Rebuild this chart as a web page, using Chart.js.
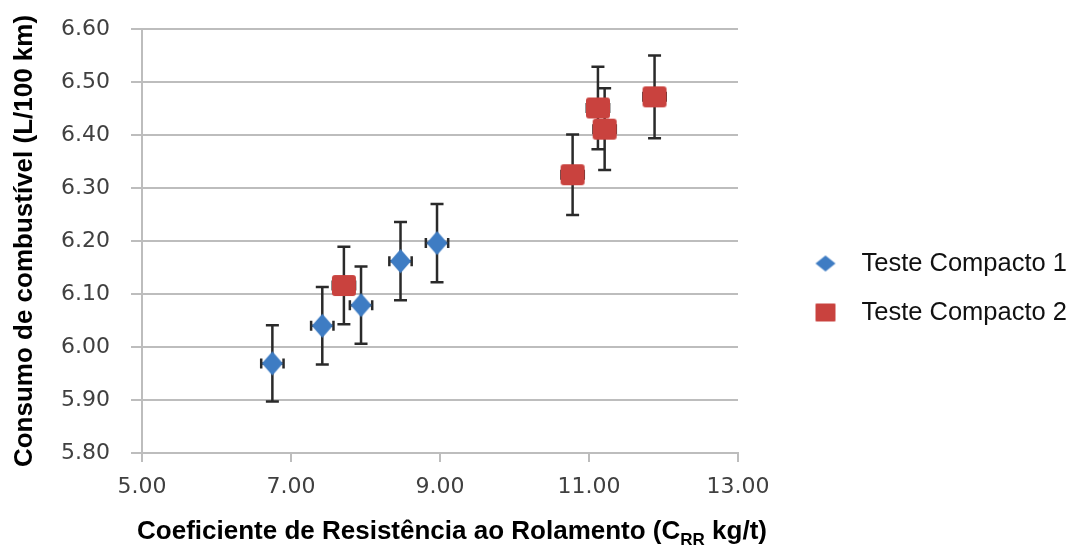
<!DOCTYPE html>
<html>
<head>
<meta charset="utf-8">
<script src="https://cdn.jsdelivr.net/npm/chart.js@4/dist/chart.umd.min.js"></script>
<style>
  html, body { margin: 0; padding: 0; background: #ffffff; }
  #wrap { width: 1072px; height: 547px; }
</style>
</head>
<body>
<div id="wrap"><canvas id="c" width="1072" height="547"></canvas></div>
<script>
// ---- data ----
const seriesNames = ['Teste Compacto 1', 'Teste Compacto 2'];
const compacto1X = [6.75, 7.42, 7.94, 8.47, 8.96];
const compacto1Y = [5.969, 6.040, 6.079, 6.162, 6.196];
const compacto1YErr = [0.072, 0.073, 0.073, 0.074, 0.074];
const compacto1XErr = [0.15, 0.15, 0.15, 0.15, 0.15];
const compacto2X = [7.71, 10.78, 11.12, 11.21, 11.88];
const compacto2Y = [6.116, 6.325, 6.451, 6.411, 6.472];
const compacto2YErr = [0.073, 0.076, 0.078, 0.077, 0.078];
const compacto2XErr = [0.15, 0.15, 0.15, 0.15, 0.15];
const xTickValues = [5, 7, 9, 11, 13];
const yTickValues = [5.8, 5.9, 6.0, 6.1, 6.2, 6.3, 6.4, 6.5, 6.6];
const yTitle = 'Consumo de combustível (L/100 km)';
const xTitleParts = ['Coeficiente de Resistência ao Rolamento (C', 'RR', ' kg/t)'];

const BLUE = '#3E7CC3';
const RED = '#C9423E';
const GRID = '#bdbdbd';

function diamondCanvas(w, h, color) {
  const c = document.createElement('canvas');
  c.width = w + 2; c.height = h + 2;
  const g = c.getContext('2d');
  const cx = c.width / 2, cy = c.height / 2;
  g.fillStyle = color;
  g.beginPath();
  g.moveTo(cx, cy - h / 2);
  g.lineTo(cx + w / 2, cy);
  g.lineTo(cx, cy + h / 2);
  g.lineTo(cx - w / 2, cy);
  g.closePath();
  g.fill();
  return c;
}
function squareCanvas(w, h, r, color) {
  const c = document.createElement('canvas');
  c.width = w + 2; c.height = h + 2;
  const g = c.getContext('2d');
  g.fillStyle = color;
  g.beginPath();
  g.roundRect(1, 1, w, h, r);
  g.fill();
  return c;
}

const blueMarker = diamondCanvas(21, 24, BLUE);
const redMarker = squareCanvas(24, 21, 3, RED);
const blueLegend = diamondCanvas(20, 16, BLUE);
const redLegend = squareCanvas(20, 18, 1, RED);

const errors = [
  { x: compacto1X, y: compacto1Y, ey: compacto1YErr, ex: compacto1XErr },
  { x: compacto2X, y: compacto2Y, ey: compacto2YErr, ex: compacto2XErr }
];

const errorBarPlugin = {
  id: 'errorBars',
  beforeDatasetsDraw(chart) {
    const ctx = chart.ctx;
    const xs = chart.scales.x, ys = chart.scales.y;
    ctx.save();
    ctx.strokeStyle = '#2a2a2a';
    ctx.lineWidth = 2.5;
    errors.forEach(s => {
      s.x.forEach((xv, i) => {
        const px = xs.getPixelForValue(xv);
        const py = ys.getPixelForValue(s.y[i]);
        const top = ys.getPixelForValue(s.y[i] + s.ey[i]);
        const bot = ys.getPixelForValue(s.y[i] - s.ey[i]);
        const left = xs.getPixelForValue(xv - s.ex[i]);
        const right = xs.getPixelForValue(xv + s.ex[i]);
        ctx.beginPath();
        ctx.moveTo(px, top); ctx.lineTo(px, bot);
        ctx.moveTo(px - 6.5, top); ctx.lineTo(px + 6.5, top);
        ctx.moveTo(px - 6.5, bot); ctx.lineTo(px + 6.5, bot);
        ctx.moveTo(left, py); ctx.lineTo(right, py);
        ctx.moveTo(left, py - 5); ctx.lineTo(left, py + 5);
        ctx.moveTo(right, py - 5); ctx.lineTo(right, py + 5);
        ctx.stroke();
      });
    });
    ctx.restore();
  }
};

const xTitlePlugin = {
  id: 'xTitle',
  afterDraw(chart) {
    const ctx = chart.ctx;
    const area = chart.chartArea;
    const mainFont = 'bold 26px "Liberation Sans", Arial, sans-serif';
    const subFont = 'bold 17px "Liberation Sans", Arial, sans-serif';
    ctx.save();
    ctx.fillStyle = '#000000';
    ctx.textBaseline = 'alphabetic';
    ctx.textAlign = 'left';
    ctx.font = mainFont;
    const w0 = ctx.measureText(xTitleParts[0]).width;
    const w2 = ctx.measureText(xTitleParts[2]).width;
    ctx.font = subFont;
    const w1 = ctx.measureText(xTitleParts[1]).width;
    const total = w0 + w1 + w2;
    const cx = (area.left + area.right) / 2 + 12;
    const baseY = area.bottom + 86;
    let x = cx - total / 2;
    ctx.font = mainFont;
    ctx.fillText(xTitleParts[0], x, baseY);
    x += w0;
    ctx.font = subFont;
    ctx.fillText(xTitleParts[1], x, baseY + 6);
    x += w1;
    ctx.font = mainFont;
    ctx.fillText(xTitleParts[2], x, baseY);
    ctx.restore();
  }
};

const tickFont = { family: '"DejaVu Sans", sans-serif', size: 22 };

new Chart(document.getElementById('c'), {
  type: 'scatter',
  data: {
    datasets: [
      {
        label: seriesNames[0],
        data: compacto1X.map((x, i) => ({ x: x, y: compacto1Y[i] })),
        pointStyle: blueMarker,
        backgroundColor: BLUE,
        borderColor: BLUE,
        pointRadius: 12,
        pointHoverRadius: 12
      },
      {
        label: seriesNames[1],
        data: compacto2X.map((x, i) => ({ x: x, y: compacto2Y[i] })),
        pointStyle: redMarker,
        backgroundColor: RED,
        borderColor: RED,
        pointRadius: 12,
        pointHoverRadius: 12
      }
    ]
  },
  options: {
    responsive: false,
    animation: false,
    events: [],
    layout: { padding: { top: 29, right: 5, left: 0, bottom: 0 } },
    plugins: {
      tooltip: { enabled: false },
      legend: {
        display: true,
        position: 'right',
        align: 'center',
        maxWidth: 329,
        labels: {
          usePointStyle: true,
          pointStyleWidth: 128,
          padding: 23.5,
          textAlign: 'right',
          color: '#111111',
          font: { family: '"Liberation Sans", Arial, sans-serif', size: 25.5 },
          generateLabels(chart) {
            const markers = [blueLegend, redLegend];
            return chart.data.datasets.map((ds, i) => ({
              text: ds.label,
              pointStyle: markers[i],
              fillStyle: ds.backgroundColor,
              strokeStyle: ds.borderColor,
              lineWidth: 0,
              hidden: false,
              datasetIndex: i,
              fontColor: '#111111'
            }));
          }
        }
      }
    },
    scales: {
      x: {
        type: 'linear',
        min: 5,
        max: 13,
        afterBuildTicks(scale) { scale.ticks = xTickValues.map(v => ({ value: v })); },
        afterFit(scale) { scale.height = 94; },
        ticks: {
          color: '#404040',
          font: tickFont,
          padding: 12,
          maxRotation: 0,
          callback: v => Number(v).toFixed(2)
        },
        grid: {
          drawOnChartArea: false,
          drawTicks: true,
          tickLength: 9,
          color: GRID,
          lineWidth: 2
        },
        border: { display: true, color: GRID, width: 2 },
        title: { display: false }
      },
      y: {
        type: 'linear',
        min: 5.8,
        max: 6.6,
        afterBuildTicks(scale) { scale.ticks = yTickValues.map(v => ({ value: v })); },
        afterFit(scale) {
          scale.width = 142;
          scale.paddingTop = 13;
          scale.paddingBottom = 13;
        },
        ticks: {
          color: '#404040',
          font: tickFont,
          padding: 21,
          callback: v => Number(v).toFixed(2)
        },
        grid: {
          drawOnChartArea: true,
          drawTicks: true,
          tickLength: 11,
          color: GRID,
          lineWidth: 2
        },
        border: { display: true, color: GRID, width: 2 },
        title: {
          display: true,
          text: yTitle,
          color: '#000000',
          font: { family: '"Liberation Sans", Arial, sans-serif', size: 26, weight: 'bold' },
          padding: { top: 9, bottom: 0 }
        }
      }
    }
  },
  plugins: [errorBarPlugin, xTitlePlugin]
});
</script>
</body>
</html>
